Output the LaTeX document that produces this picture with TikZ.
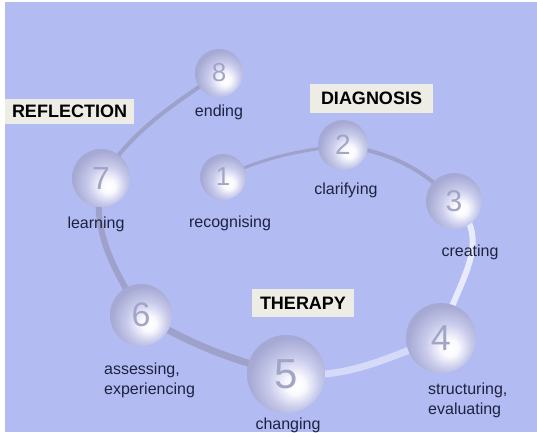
\documentclass[tikz,border=0pt]{standalone}
\usepackage{fontspec}
\setmainfont{Liberation Sans}
\usetikzlibrary{backgrounds}
\definecolor{bgblue}{HTML}{B2BCF2}
\definecolor{ballmid}{HTML}{CACCEC}
\definecolor{balledge}{HTML}{A6A9D3}
\definecolor{trackc}{HTML}{9EA2CB}
\definecolor{labelfill}{HTML}{EDEDE6}
\definecolor{txt}{HTML}{1E2240}
\definecolor{digitc}{HTML}{A2A5C6}
\pgfdeclareradialshading{pearl}{\pgfqpoint{7bp}{-8bp}}{color(0bp)=(white); color(6bp)=(white!90!ballmid); color(16bp)=(ballmid); color(27bp)=(balledge); color(50bp)=(balledge)}
\tikzset{
  pearlball/.style={circle, inner sep=0pt, minimum size=#1, shading=pearl, text=digitc},
  phase/.style={fill=labelfill, inner sep=0pt, font=\fontsize{18}{20}\selectfont\bfseries, text=black},
  lbl/.style={font=\fontsize{16}{20}\selectfont, text=txt, inner sep=0pt},
  track/.style={line cap=round}
}
\begin{document}
\begin{tikzpicture}[x=1pt,y=-1pt]
\useasboundingbox (0,0) rectangle (537,432);
% balls
\node[pearlball=46pt, font=\fontsize{26}{26}\selectfont] (b1) at (223,177) {1};
\node[pearlball=50pt, font=\fontsize{28}{28}\selectfont] (b2) at (343,145) {2};
\node[pearlball=56pt, font=\fontsize{30}{30}\selectfont] (b3) at (454,201) {3};
\node[pearlball=70pt, font=\fontsize{36}{36}\selectfont] (b4) at (441,338) {4};
\node[pearlball=78pt, font=\fontsize{42}{42}\selectfont] (b5) at (286,374) {5};
\node[pearlball=62pt, font=\fontsize{34}{34}\selectfont] (b6) at (141,315) {6};
\node[pearlball=58pt, font=\fontsize{32}{32}\selectfont] (b7) at (101,178) {7};
\node[pearlball=48pt, font=\fontsize{26}{26}\selectfont] (b8) at (219,73) {8};
% track
\begin{scope}[on background layer]
\fill[white] (0,0) rectangle (537,432);
\fill[bgblue] (5,2) rectangle (537,432);
\draw[track, line width=3pt, color=trackc] (b1.center) to[out=25,in=188] (b2.center);
\draw[track, line width=4pt, color=trackc] (b2.center) to[out=-10,in=135] (b3.center);
\draw[track, line width=6pt, color=white!70!bgblue] (b3.center) to[out=-45,in=75,looseness=1.1] (b4.center);
\draw[track, line width=7pt, color=white!45!bgblue] (b4.center) to[out=200,in=-5] (b5.center);
\draw[track, line width=7pt, color=trackc] (b5.center) to[out=165,in=-30] (b6.center);
\draw[track, line width=6pt, color=trackc] (b6.center) to[out=120,in=-100] (b7.center);
\draw[track, line width=4pt, color=trackc] (b7.center) to[out=55,in=-145] (b8.center);
\end{scope}
% phase labels
\node[phase, minimum width=129pt, minimum height=25pt] (refl) at (69.5,111.5) {REFLECTION};
\node[phase, minimum width=123pt, minimum height=29pt] (diag) at (371.5,98.5) {DIAGNOSIS};
\node[phase, minimum width=102pt, minimum height=28pt] (ther) at (303,303) {THERAPY};
% step labels
\node[lbl] (l8) at (219,112) {ending};
\node[lbl] (l2) at (346,190) {clarifying};
\node[lbl] (l1) at (230,223) {recognising};
\node[lbl] (l7) at (96,224) {learning};
\node[lbl] (l3) at (470,252) {creating};
\node[lbl, align=left, anchor=west] (l6) at (104,380) {assessing,\\experiencing};
\node[lbl] (l5) at (288,425) {changing};
\node[lbl, align=left, anchor=west] (l4) at (428,400) {structuring,\\evaluating};
\end{tikzpicture}
\end{document}
